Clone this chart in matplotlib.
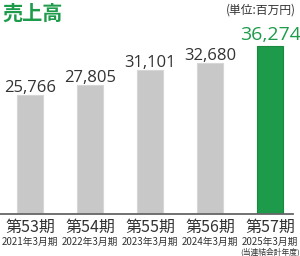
import matplotlib
matplotlib.use('Agg')
import matplotlib.pyplot as plt

plt.rcParams['font.family'] = ['Noto Sans CJK JP', 'DejaVu Sans']

periods = ['第53期', '第54期', '第55期', '第56期', '第57期']
years = ['2021年3月期', '2022年3月期', '2023年3月期', '2024年3月期', '2025年3月期']
sales = [25766, 27805, 31101, 32680, 36274]

GREEN = '#1e9b4a'
GREY = '#c8c8c8'
TEXT = '#333333'

fig = plt.figure(figsize=(3, 2.56), dpi=100)
ax = fig.add_axes([0, 42 / 256, 293 / 300, 184 / 256])

colors = [GREY] * 4 + [GREEN]
edges = ['#d6d6d6'] * 4 + ['#178a3e']
x = list(range(len(sales)))
ax.bar(x, sales, width=0.42, color=colors, edgecolor=edges, linewidth=0.8, zorder=2)

ax.set_xlim(-0.5, 4.383)
ax.set_ylim(0, 39740)
for s in ['top', 'right', 'left']:
    ax.spines[s].set_visible(False)
ax.spines['bottom'].set_color('#666666')
ax.spines['bottom'].set_linewidth(1.3)
ax.set_xticks([])
ax.set_yticks([])

# 値ラベル
for i, v in enumerate(sales):
    last = i == len(sales) - 1
    ax.annotate(f'{v:,}', xy=(i, v), xytext=(0, 4.3 if last else 2.2),
                textcoords='offset points', ha='center', va='baseline',
                fontsize=14 if last else 12, color=GREEN if last else TEXT,
                family=['Open Sans', 'DejaVu Sans'])

# 軸ラベル
for i in x:
    ax.annotate(periods[i], xy=(i, 0), xycoords=('data', 'axes fraction'),
                xytext=(0, -9.4), textcoords='offset points',
                ha='center', va='center', fontsize=11.5, color=TEXT)
    ax.annotate(years[i], xy=(i, 0), xycoords=('data', 'axes fraction'),
                xytext=(0, -20.2), textcoords='offset points',
                ha='center', va='center', fontsize=7, color=TEXT)
ax.annotate('(当連結会計年度)', xy=(4, 0), xycoords=('data', 'axes fraction'),
            xytext=(0, -27.6), textcoords='offset points',
            ha='center', va='center', fontsize=5.6, color=TEXT)

fig.text(2 / 300, 1 - 3 / 256, '売上高', ha='left', va='top',
         fontsize=14.5, fontweight='bold', color=GREEN)
fig.text(296 / 300, 1 - 4 / 256, '(単位:百万円)', ha='right', va='top',
         fontsize=8.5, color=TEXT)

fig.savefig('out.png', dpi=100)
